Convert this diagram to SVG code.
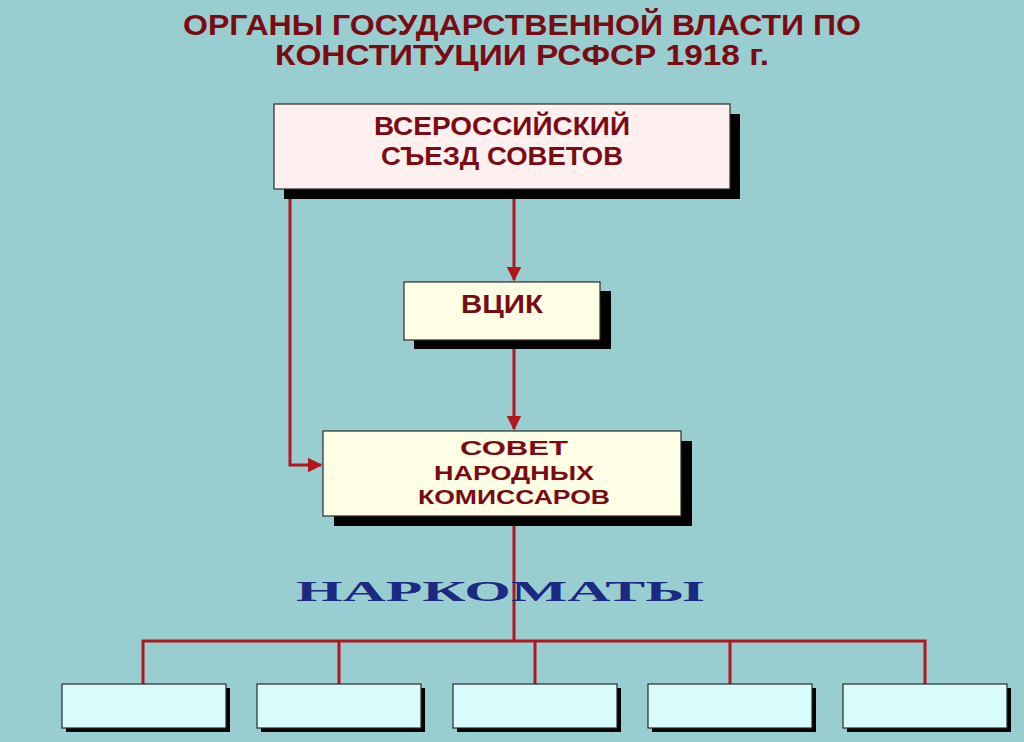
<svg xmlns="http://www.w3.org/2000/svg" width="1024" height="742" viewBox="0 0 1024 742">
<style>
.t{font-family:"Liberation Sans",Arial,sans-serif;font-weight:bold;fill:#7a0b12;text-anchor:middle}
.box{stroke:#2a2a2a;stroke-width:1.2}
.sh{fill:#000}
.ln{stroke:#b3161d;stroke-width:3;fill:none}
</style>
<defs>
<marker id="ah" viewBox="0 0 10 10" refX="9" refY="5" markerWidth="5" markerHeight="5" markerUnits="strokeWidth" orient="auto">
<path d="M0,0 L10,5 L0,10 z" fill="#b3161d"/>
</marker>
</defs>
<rect width="1024" height="742" fill="#99ced0"/>
<g id="title">
<text class="t" x="522" y="35" font-size="29" textLength="678" lengthAdjust="spacingAndGlyphs">ОРГАНЫ ГОСУДАРСТВЕННОЙ ВЛАСТИ ПО</text>
<text class="t" x="522" y="65" font-size="29" textLength="494" lengthAdjust="spacingAndGlyphs">КОНСТИТУЦИИ РСФСР 1918 г.</text>
</g>
<g id="connectors">
<line class="ln" x1="514" y1="190" x2="514" y2="280" marker-end="url(#ah)"/>
<line class="ln" x1="514" y1="341" x2="514" y2="429" marker-end="url(#ah)"/>
<polyline class="ln" points="290,190 290,465 321,465" marker-end="url(#ah)"/>
<line class="ln" x1="514" y1="517" x2="514" y2="641"/>
<polyline class="ln" points="143,684 143,641 925,641 925,684"/>
<line class="ln" x1="339" y1="641" x2="339" y2="684"/>
<line class="ln" x1="535" y1="641" x2="535" y2="684"/>
<line class="ln" x1="730" y1="641" x2="730" y2="684"/>
</g>
<g id="congress">
<rect class="sh" x="284" y="114" width="456" height="85"/>
<rect class="box" x="274" y="104" width="456" height="85" fill="#fff0f0"/>
<text class="t" x="502" y="135" font-size="25" textLength="256" lengthAdjust="spacingAndGlyphs">ВСЕРОССИЙСКИЙ</text>
<text class="t" x="502" y="165" font-size="25" textLength="242" lengthAdjust="spacingAndGlyphs">СЪЕЗД СОВЕТОВ</text>
</g>
<g id="vtsik">
<rect class="sh" x="414" y="291" width="197" height="58"/>
<rect class="box" x="404" y="282" width="196" height="58" fill="#ffffe6"/>
<text class="t" x="502" y="313" font-size="25" textLength="82" lengthAdjust="spacingAndGlyphs">ВЦИК</text>
</g>
<g id="snk">
<rect class="sh" x="334" y="441" width="358" height="85"/>
<rect class="box" x="323" y="431" width="358" height="85" fill="#ffffe6"/>
<text class="t" x="514" y="455" font-size="21" textLength="108" lengthAdjust="spacingAndGlyphs">СОВЕТ</text>
<text class="t" x="514" y="479.5" font-size="21" textLength="160" lengthAdjust="spacingAndGlyphs">НАРОДНЫХ</text>
<text class="t" x="514" y="504" font-size="21" textLength="192" lengthAdjust="spacingAndGlyphs">КОМИССАРОВ</text>
</g>
<g id="narkomaty-label">
<text x="500" y="601" font-family="'Liberation Serif','Times New Roman',serif" font-weight="bold" font-size="29" fill="#1b2a80" text-anchor="middle" textLength="408" lengthAdjust="spacingAndGlyphs">НАРКОМАТЫ</text>
</g>
<g id="nk1"><rect class="sh" x="66" y="688" width="164" height="44"/><rect class="box" x="62" y="684" width="164" height="44" fill="#d8fbfb"/></g>
<g id="nk2"><rect class="sh" x="261" y="688" width="164" height="44"/><rect class="box" x="257" y="684" width="164" height="44" fill="#d8fbfb"/></g>
<g id="nk3"><rect class="sh" x="457" y="688" width="164" height="44"/><rect class="box" x="453" y="684" width="164" height="44" fill="#d8fbfb"/></g>
<g id="nk4"><rect class="sh" x="652" y="688" width="164" height="44"/><rect class="box" x="648" y="684" width="164" height="44" fill="#d8fbfb"/></g>
<g id="nk5"><rect class="sh" x="847" y="688" width="164" height="44"/><rect class="box" x="843" y="684" width="164" height="44" fill="#d8fbfb"/></g>
</svg>
